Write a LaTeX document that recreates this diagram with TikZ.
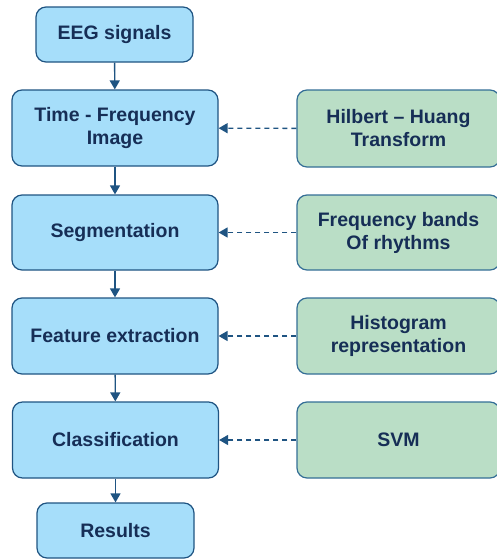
\documentclass[tikz,border=0pt]{standalone}
\usepackage{fontspec}
\setmainfont{Liberation Sans}
\usetikzlibrary{arrows.meta}
\definecolor{bluefill}{RGB}{166,222,250}
\definecolor{blueline}{RGB}{31,84,130}
\definecolor{greenfill}{RGB}{186,222,198}
\definecolor{greenline}{RGB}{52,110,150}
\definecolor{textnavy}{RGB}{22,46,86}
\begin{document}
\begin{tikzpicture}[x=1pt,y=-1pt,
  box/.style={rounded corners=10pt, line width=1.2pt, inner sep=0pt,
    font=\fontsize{19.5}{23}\selectfont\bfseries, text=textnavy, align=center},
  stagebox/.style={box, fill=bluefill, draw=blueline},
  sourcebox/.style={box, fill=greenfill, draw=greenline},
  flow/.style={draw=blueline, line width=1.4pt, -{Triangle[length=9pt,width=10pt]}},
  feed/.style={draw=blueline, line width=1.4pt, dash pattern=on 5pt off 4pt,
    -{Triangle[length=9pt,width=10pt]}}]
\useasboundingbox (0,0) rectangle (497,560);
% main processing chain
\node[stagebox, minimum width=157pt, minimum height=55pt] (eeg) at (114.5,34.5) {EEG signals};
\node[stagebox, minimum width=206pt, minimum height=76pt] (tf) at (115,128) {Time - Frequency\\Image};
\node[stagebox, minimum width=206pt, minimum height=75pt] (seg) at (115,232.5) {Segmentation};
\node[stagebox, minimum width=206pt, minimum height=76pt] (feat) at (115,336) {Feature extraction};
\node[stagebox, minimum width=206pt, minimum height=76pt] (cls) at (115.5,440) {Classification};
\node[stagebox, minimum width=157pt, minimum height=55pt] (res) at (115.5,530.5) {Results};
% supporting methods
\node[sourcebox, minimum width=203pt, minimum height=77pt] (hht) at (398.5,128.5) {Hilbert -- Huang\\Transform};
\node[sourcebox, minimum width=203pt, minimum height=75pt] (bands) at (398.5,232.5) {Frequency bands\\Of rhythms};
\node[sourcebox, minimum width=203pt, minimum height=76pt] (hist) at (398.5,336) {Histogram\\representation};
\node[sourcebox, minimum width=203pt, minimum height=76pt] (svm) at (398.5,440) {SVM};
% arrows
\draw[flow] (eeg) -- (tf);
\draw[flow] (tf) -- (seg);
\draw[flow] (seg) -- (feat);
\draw[flow] (feat) -- (cls);
\draw[flow] (cls) -- (res);
\draw[feed] (hht) -- (tf);
\draw[feed] (bands) -- (seg);
\draw[feed] (hist) -- (feat);
\draw[feed] (svm) -- (cls);
\end{tikzpicture}
\end{document}
